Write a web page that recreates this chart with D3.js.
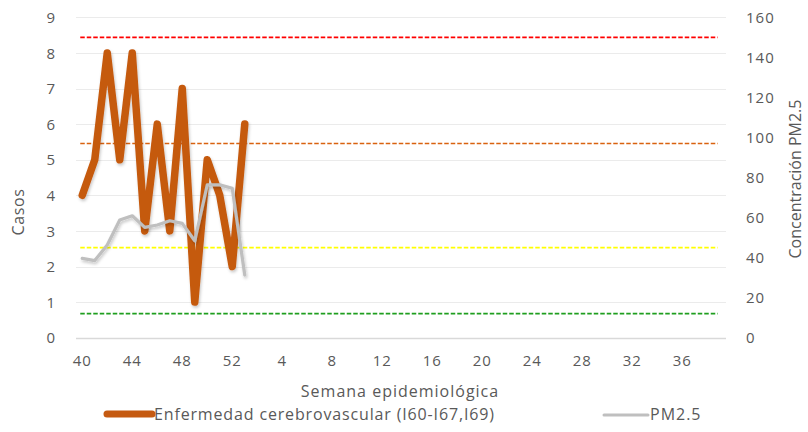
<!DOCTYPE html>
<html><head><meta charset="utf-8">
<script src="https://cdn.jsdelivr.net/npm/d3@7"></script>
<style>
body{margin:0;background:#fff;}
text{font-family:"Open Sans",sans-serif;fill:#595959;}
</style></head>
<body><svg id="c" width="808" height="432"></svg>
<script>
const weeks = [40,41,42,43,44,45,46,47,48,49,50,51,52].concat(d3.range(1,40));
const tickWeeks = [40,44,48,52,4,8,12,16,20,24,28,32,36];
const casos = [4,5,8,5,8,3,6,3,7,1,5,4,2,6];
const pm25 = [39.6,38.5,46.3,58.8,60.9,55.1,56.3,58.4,57.1,48.4,76.3,76.3,74.6,31.3];
const leftTicks = [0,1,2,3,4,5,6,7,8,9];
const rightTicks = [0,20,40,60,80,100,120,140,160];
const thresholds = [150,97,45,12];
const thresholdColors = ["#ff0000","#d9620f","#ffff00","#1f9e1f"];
const seriesNames = ["Enfermedad cerebrovascular (I60-I67,I69)","PM2.5"];
const seriesColors = ["#c55a11","#bfbfbf"];

const svg = d3.select("#c");
const defs = svg.append("defs");
const f = defs.append("filter").attr("id","sh").attr("x","-20%").attr("y","-20%").attr("width","140%").attr("height","140%");
f.append("feDropShadow").attr("dx",1).attr("dy",2).attr("stdDeviation",1.5).attr("flood-color","#000").attr("flood-opacity",0.22);

const L=76,R=726,T=17.3,B=337.7;
const x = d3.scaleBand().domain(d3.range(weeks.length)).range([L,R]);
const cx = i => x(i)+x.bandwidth()/2;
const yL = d3.scaleLinear().domain([0,9]).range([B,T]);
const yR = d3.scaleLinear().domain([0,160]).range([B,T]);
const snap = v => Math.round(v)+0.5;

// gridlines
svg.append("g").selectAll("line").data(leftTicks).join("line")
  .attr("x1",L).attr("x2",R).attr("y1",d=>snap(yL(d))).attr("y2",d=>snap(yL(d)))
  .attr("stroke",d=>d===0?"#d9d9d9":"#ebebeb").attr("stroke-width",d=>d===0?1.5:1);

function styleTicks(g){
  g.select(".domain").remove();
  g.selectAll("text").attr("font-size",15).style("font-family","Open Sans")
   .attr("fill","#595959").style("letter-spacing","1px");
}
// left axis
const ga = svg.append("g").attr("transform",`translate(${L-20},0)`)
  .call(d3.axisLeft(yL).tickValues(leftTicks).tickSize(0).tickPadding(0).tickFormat(d3.format("d")));
styleTicks(ga);
ga.selectAll("text").attr("dy","0.35em");

// right axis
const gr = svg.append("g").attr("transform",`translate(${R+20},0)`)
  .call(d3.axisRight(yR).tickValues(rightTicks).tickSize(0).tickPadding(0));
styleTicks(gr);
gr.selectAll("text").attr("dy","0.35em");

// bottom axis
const idxTicks = tickWeeks.map(w=>weeks.indexOf(w));
const gb = svg.append("g").attr("transform",`translate(0,${B+18})`)
  .call(d3.axisBottom(x).tickValues(idxTicks).tickSize(0).tickPadding(0).tickFormat(i=>weeks[i]));
styleTicks(gb);
gb.selectAll("text").attr("dy","0.71em");

// thresholds
svg.append("g").selectAll("line").data(thresholds).join("line")
  .attr("x1",cx(0)-2).attr("x2",cx(weeks.length-1)-2)
  .attr("y1",d=>yR(d)).attr("y2",d=>yR(d))
  .style("stroke",(d,i)=>thresholdColors[i]).attr("stroke-width",1.6).attr("stroke-dasharray","4.5,2");

// series
svg.append("path").datum(casos)
  .attr("d",d3.line().x((d,i)=>cx(i)).y(d=>yL(d)))
  .attr("fill","none").attr("stroke",seriesColors[0]).attr("stroke-width",7.5)
  .attr("stroke-linejoin","round").attr("stroke-linecap","round").attr("filter","url(#sh)");
svg.append("path").datum(pm25)
  .attr("d",d3.line().x((d,i)=>cx(i)).y(d=>yR(d)))
  .attr("fill","none").attr("stroke",seriesColors[1]).attr("stroke-width",3.2)
  .attr("stroke-linejoin","round").attr("stroke-linecap","round").attr("filter","url(#sh)");

// axis titles
svg.append("text").attr("transform","translate(23.5,212) rotate(-90)").attr("text-anchor","middle")
  .attr("font-size",16).style("letter-spacing","0.6px").text("Casos");
svg.append("text").attr("transform","translate(801,179) rotate(-90)").attr("text-anchor","middle")
  .attr("font-size",16).text("Concentración PM2.5");
svg.append("text").attr("x",400).attr("y",396.5).attr("text-anchor","middle")
  .attr("font-size",16).style("letter-spacing","1px").text("Semana epidemiológica");

// legend
const lg = svg.append("g");
lg.append("line").attr("x1",107).attr("x2",152).attr("y1",414).attr("y2",414)
  .attr("stroke",seriesColors[0]).attr("stroke-width",7).attr("stroke-linecap","round");
lg.append("text").attr("x",154).attr("y",420).attr("font-size",16).style("letter-spacing","0.85px").text(seriesNames[0]);
lg.append("line").attr("x1",604).attr("x2",648).attr("y1",415).attr("y2",415)
  .attr("stroke",seriesColors[1]).attr("stroke-width",3).attr("stroke-linecap","round");
lg.append("text").attr("x",650).attr("y",420).attr("font-size",16).style("letter-spacing","1px").text(seriesNames[1]);
</script></body></html>
